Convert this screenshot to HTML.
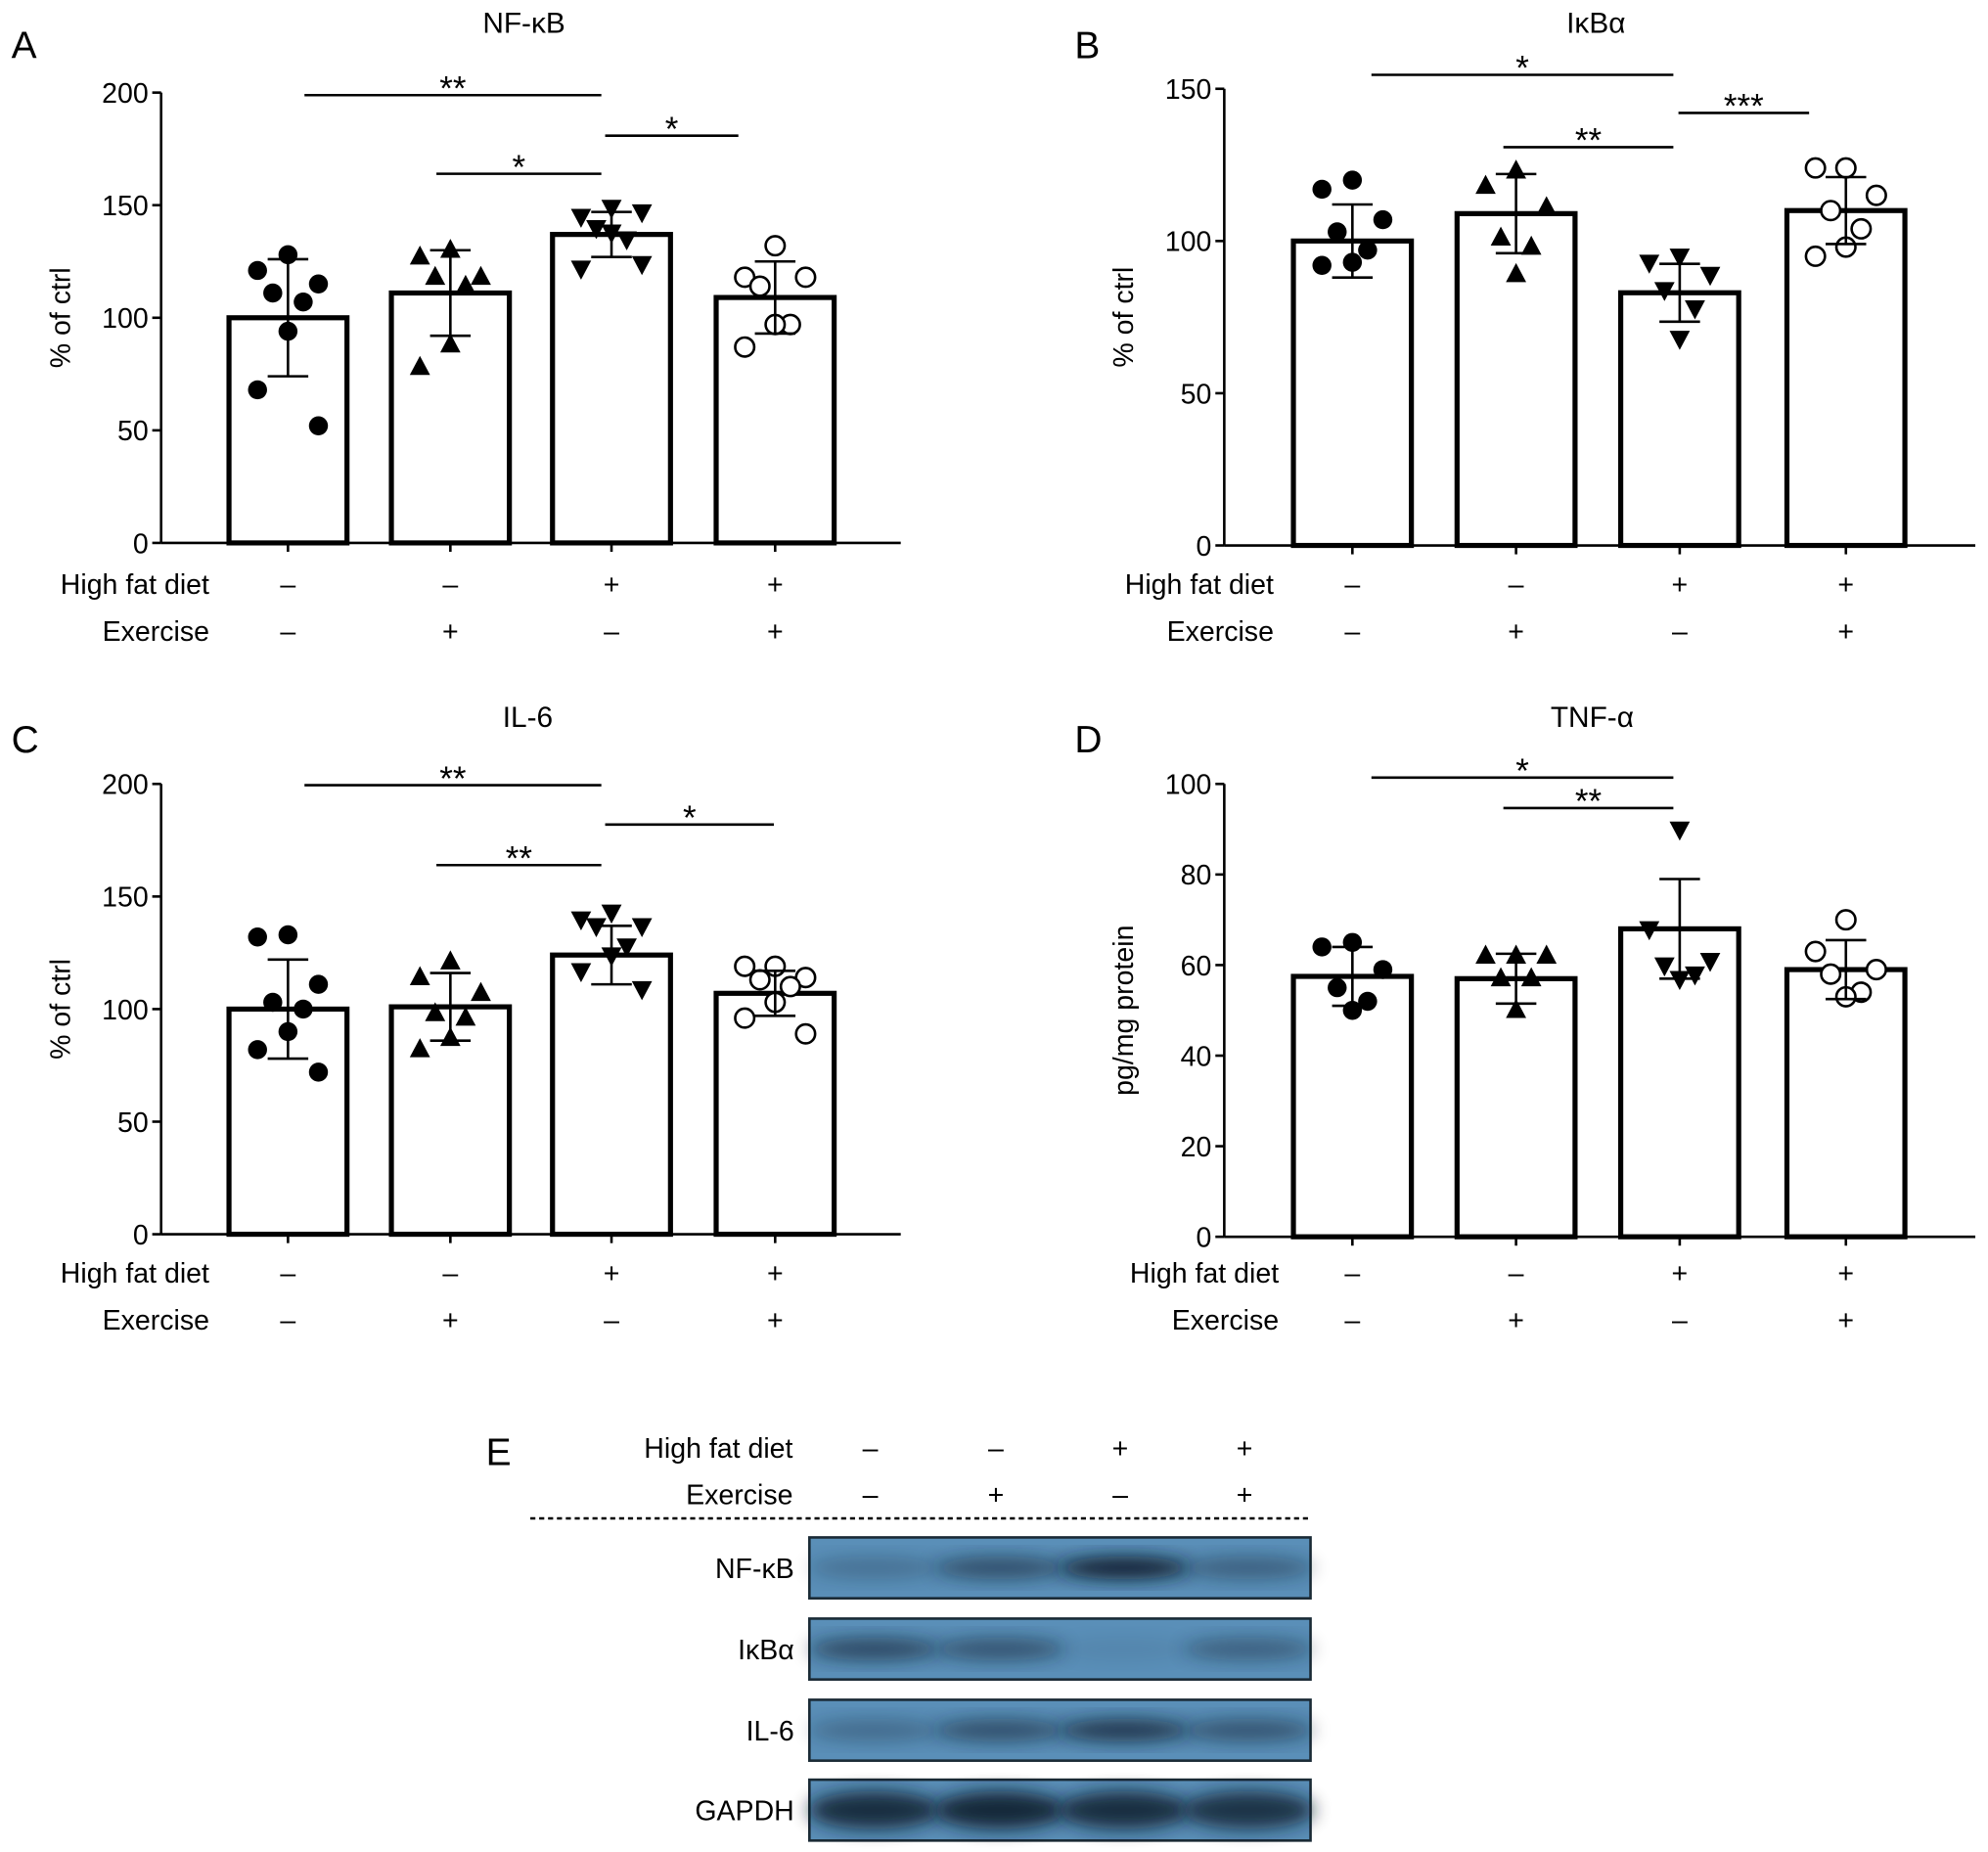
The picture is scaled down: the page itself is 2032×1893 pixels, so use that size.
<!DOCTYPE html>
<html><head><meta charset="utf-8"><style>
html,body{margin:0;padding:0;background:#fff;}
svg{display:block;font-family:"Liberation Sans",sans-serif;}
</style></head><body>
<svg id="fig" width="2032" height="1893" viewBox="0 0 1567 1460" preserveAspectRatio="none" xmlns="http://www.w3.org/2000/svg">
<defs><filter id="blur" x="-50%" y="-50%" width="200%" height="200%"><feGaussianBlur stdDeviation="7"/></filter></defs>
</svg>
<script>
// ---- data ----
const groups = ["ctrl", "exercise", "hfd", "hfd-exercise"];
const hfdSigns = ["–", "–", "+", "+"];
const exSigns = ["–", "+", "–", "+"];
const aMeans = [100, 111, 137, 109];
const aSD = [26, 19, 10, 16];
const aPoints = [[128,121,115,111,107,94,68,52],[130,127,118,118,114,88,78],[149,145,147,140,135,138,122,124],[132,118,118,114,97,97,87]];
const aTicks = [0, 50, 100, 150, 200];
const bMeans = [100, 109, 83, 110];
const bSD = [12, 13, 9.5, 11];
const bPoints = [[120,117,107,103,97,93,92],[123,118,111,101,98,89],[95,93,89,84,78,68],[124,124,115,110,104,98,95]];
const bTicks = [0, 50, 100, 150];
const cMeans = [100, 101, 124, 107];
const cSD = [22, 15, 13, 10];
const cPoints = [[133,132,111,103,100,90,82,72],[121,114,107,98,96,87,82],[143,140,137,137,128,124,117,109],[119,119,114,113,110,103,96,89]];
const cTicks = [0, 50, 100, 150, 200];
const dMeans = [57.5, 57, 68, 59];
const dSD = [6.5, 5.5, 11, 6.5];
const dPoints = [[65,64,59,55,52,50],[62,62,62,57,57,50],[90,68,61,60,58,57],[70,63,59,58,54,53]];
const dTicks = [0, 20, 40, 60, 80, 100];
const blotLabels = ["NF-κB", "IκBα", "IL-6", "GAPDH"];
const blotIntensity = [[0.25,0.55,0.95,0.4],[0.6,0.5,0.08,0.4],[0.3,0.55,0.75,0.5],[0.85,0.9,0.85,0.8]];

const NS = "http://www.w3.org/2000/svg";
const svg = document.getElementById("fig");
function mk(tag, attrs, parent, text) {
  const e = document.createElementNS(NS, tag);
  for (const k in attrs) e.setAttribute(k, attrs[k]);
  if (text !== undefined) e.textContent = text;
  (parent || svg).appendChild(e);
  return e;
}
const OFFS = [0, -24, 24, -12, 12, 0, -24, 24];

function panel(cfg) {
  const g = mk("g", {});
  
  
  const y = v => cfg.y0 - (v - 0) / cfg.max * (cfg.y0 - cfg.yTop);
  const lt = mk("text", {x: cfg.ax - 118, y: cfg.title_y + 20, "font-size": 30}, g, cfg.letter);
  
  
  const tt = mk("text", {x: cfg.titleX, y: cfg.title_y, "font-size": 23, "text-anchor": "middle"}, g, cfg.title);
  
  
  const ya = mk("line", {x1: cfg.ax, x2: cfg.ax, y1: cfg.yTop, y2: cfg.y0, stroke: "#000", "stroke-width": 2}, g);
  
  
  const xa = mk("line", {x1: cfg.ax, x2: cfg.axEnd, y1: cfg.y0, y2: cfg.y0, stroke: "#000", "stroke-width": 2}, g);
  
  
  cfg.ticks.forEach(t => {
    mk("line", {x1: cfg.ax - 7, x2: cfg.ax, y1: y(t), y2: y(t), stroke: "#000", "stroke-width": 2}, g);
    const tl = mk("text", {x: cfg.ax - 10, y: y(t) + 8, "font-size": 22, "text-anchor": "end"}, g, String(t));
    
    
  });
  const yl = mk("text", {x: 0, y: 0, "font-size": 22, "text-anchor": "middle", transform: `translate(${cfg.ax - 72},${(cfg.yTop + cfg.y0) / 2}) rotate(-90)`}, g, cfg.ylabel);
  
  
  const bw = 93;
  cfg.centers.forEach((cx, i) => {
    mk("line", {x1: cx, x2: cx, y1: cfg.y0, y2: cfg.y0 + 7, stroke: "#000", "stroke-width": 2}, g);
    const bar = mk("rect", {x: cx - bw / 2, y: y(cfg.means[i]), width: bw, height: cfg.y0 - y(cfg.means[i]), fill: "#fff", stroke: "#000", "stroke-width": 4}, g);
    
    
    const shape = i;
    cfg.points[i].forEach((v, j) => {
      const px = cx + OFFS[j % OFFS.length], py = y(v);
      let p;
      if (shape === 0) p = mk("circle", {cx: px, cy: py, r: 7.5, fill: "#000"}, g);
      else if (shape === 1) p = mk("polygon", {points: `${px},${py - 9} ${px - 8},${py + 6} ${px + 8},${py + 6}`, fill: "#000"}, g);
      else if (shape === 2) p = mk("polygon", {points: `${px},${py + 9} ${px - 8},${py - 6} ${px + 8},${py - 6}`, fill: "#000"}, g);
      else p = mk("circle", {cx: px, cy: py, r: 7.5, fill: "#fff", stroke: "#000", "stroke-width": 2}, g);
      
      
    });
    const hi = y(cfg.means[i] + cfg.sd[i]), lo = y(cfg.means[i] - cfg.sd[i]);
    const eb = mk("path", {d: `M${cx},${hi}V${lo}M${cx - 16},${hi}H${cx + 16}M${cx - 16},${lo}H${cx + 16}`, stroke: "#000", "stroke-width": 2, fill: "none"}, g);
    
    
    const s1 = mk("text", {x: cx, y: cfg.rowY + 8, "font-size": 22, "text-anchor": "middle"}, g, hfdSigns[i]);
    
    
    const s2 = mk("text", {x: cx, y: cfg.rowY + 45, "font-size": 22, "text-anchor": "middle"}, g, exSigns[i]);
    
    
  });
  const r1 = mk("text", {x: cfg.rowRight, y: cfg.rowY + 8, "font-size": 22, "text-anchor": "end"}, g, "High fat diet");
  
  
  const r2 = mk("text", {x: cfg.rowRight, y: cfg.rowY + 45, "font-size": 22, "text-anchor": "end"}, g, "Exercise");
  
  
  cfg.sig.forEach(s => {
    const l = mk("line", {x1: s[0], x2: s[1], y1: s[2], y2: s[2], stroke: "#000", "stroke-width": 2}, g);
    
    
    const st = mk("text", {x: (s[0] + s[1]) / 2, y: s[2] + 4, "font-size": 27, "text-anchor": "middle"}, g, s[3]);
    
    
  });
}
const L = [227, 355, 482, 611], R = [1066, 1195, 1324, 1455];
panel({letter: "A", title: "NF-κB", titleX: 413, title_y: 26, ax: 127, axEnd: 710, yTop: 73, y0: 428, max: 200, ticks: aTicks, ylabel: "% of ctrl", centers: L, means: aMeans, sd: aSD, points: aPoints, rowY: 460, rowRight: 165,
  sig: [[240, 474, 75, "**"], [344, 474, 137, "*"], [477, 582, 107, "*"]]});
panel({letter: "B", title: "IκBα", titleX: 1258, title_y: 26, ax: 965, axEnd: 1557, yTop: 70, y0: 430, max: 150, ticks: bTicks, ylabel: "% of ctrl", centers: R, means: bMeans, sd: bSD, points: bPoints, rowY: 460, rowRight: 1004,
  sig: [[1081, 1319, 59, "*"], [1185, 1319, 116, "**"], [1323, 1426, 89, "***"]]});
panel({letter: "C", title: "IL-6", titleX: 416, title_y: 573, ax: 127, axEnd: 710, yTop: 618, y0: 973, max: 200, ticks: cTicks, ylabel: "% of ctrl", centers: L, means: cMeans, sd: cSD, points: cPoints, rowY: 1003, rowRight: 165,
  sig: [[240, 474, 619, "**"], [344, 474, 682, "**"], [477, 610, 650, "*"]]});
panel({letter: "D", title: "TNF-α", titleX: 1255, title_y: 573, ax: 965, axEnd: 1557, yTop: 618, y0: 975, max: 100, ticks: dTicks, ylabel: "pg/mg protein", centers: R, means: dMeans, sd: dSD, points: dPoints, rowY: 1003, rowRight: 1008,
  sig: [[1081, 1319, 613, "*"], [1185, 1319, 637, "**"]]});

// Panel E
const ge = mk("g", {});


mk("text", {x: 383, y: 1155, "font-size": 30}, ge, "E");
mk("text", {x: 625, y: 1149, "font-size": 22, "text-anchor": "end"}, ge, "High fat diet");
mk("text", {x: 625, y: 1186, "font-size": 22, "text-anchor": "end"}, ge, "Exercise");
const lanes = [686, 785, 883, 981];
lanes.forEach((lx, i) => {
  mk("text", {x: lx, y: 1149, "font-size": 22, "text-anchor": "middle"}, ge, hfdSigns[i]);
  mk("text", {x: lx, y: 1186, "font-size": 22, "text-anchor": "middle"}, ge, exSigns[i]);
});
const dl = mk("line", {x1: 418, x2: 1032, y1: 1197, y2: 1197, stroke: "#000", "stroke-width": 2, "stroke-dasharray": "4,3"}, ge);


const blotY = [1212, 1276, 1340, 1403];
blotLabels.forEach((lab, r) => {
  const by = blotY[r], bh = 48;
  const bl = mk("rect", {x: 638, y: by, width: 395, height: bh, fill: "#5a8fb8", stroke: "#1a2a35", "stroke-width": 2}, ge);
  
  
  lanes.forEach((lx, i) => {
    const a = blotIntensity[r][i];
    const band = mk("ellipse", {cx: lx + 3, cy: by + bh / 2, rx: 52, ry: r === 3 ? 15 : 9, fill: "#0d1c2a", opacity: a, filter: "url(#blur)"}, ge);
    
    
  });
  const t = mk("text", {x: 626, y: by + bh / 2 + 8, "font-size": 22, "text-anchor": "end"}, ge, lab);
  
  
});
</script>
</body></html>
